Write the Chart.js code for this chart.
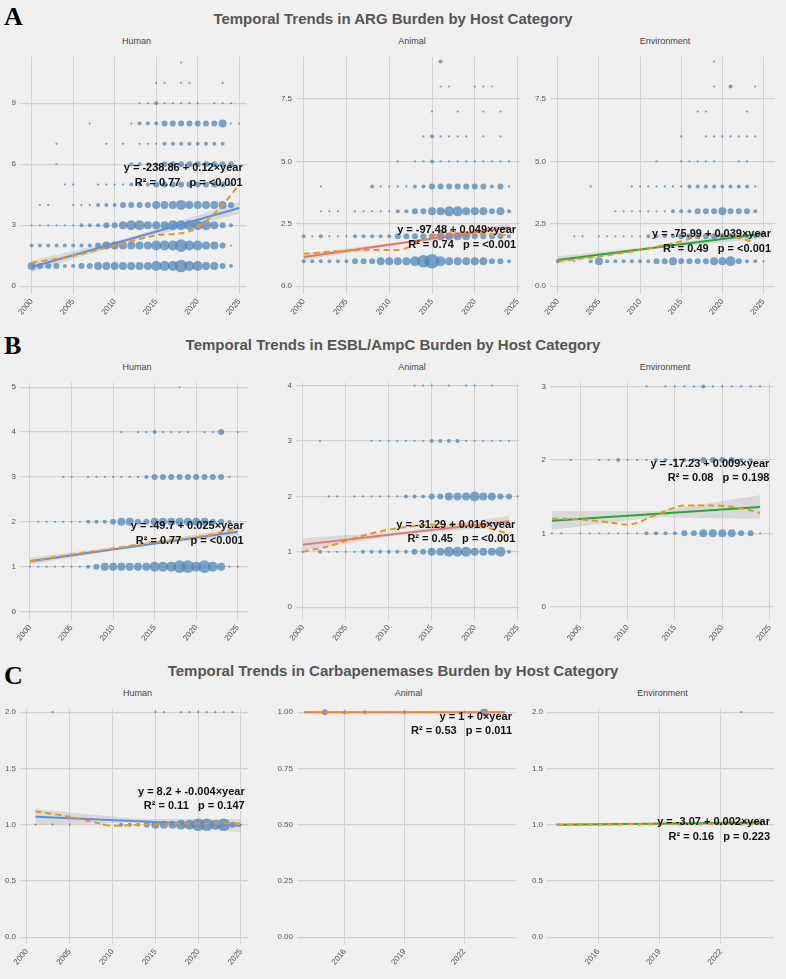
<!DOCTYPE html>
<html>
<head>
<meta charset="utf-8">
<script src="https://cdn.jsdelivr.net/npm/chart.js@4.4.1/dist/chart.umd.min.js"></script>
<style>
  body { margin: 0; background: #f0f0f0; width: 786px; height: 979px; position: relative; overflow: hidden; font-family: "Liberation Sans", Arial, sans-serif; }
  .panel { position: absolute; }
  .title { position: absolute; left: 0; width: 786px; text-align: center; font: bold 15px "Liberation Sans Narrow", "Liberation Sans", sans-serif; color: #555; }
  .letter { position: absolute; left: 4px; font: bold 26px "Liberation Serif", serif; color: #000; }
  .sub { position: absolute; font: 9px "Liberation Sans Narrow", "Liberation Sans", sans-serif; color: #444; text-align: center; }
</style>
</head>
<body>
<div class="letter" style="top:2px">A</div>
<div class="title" style="top:10px">Temporal Trends in ARG Burden by Host Category</div>
<div class="letter" style="top:331px">B</div>
<div class="title" style="top:336px">Temporal Trends in ESBL/AmpC Burden by Host Category</div>
<div class="letter" style="top:661px">C</div>
<div class="title" style="top:662px">Temporal Trends in Carbapenemases Burden by Host Category</div>

<script>
// bubble rows: [level, firstYear, size codes per year...] 0 = no point
const humanA = [
  [1, 2000, 4,3,3,3,2,2,3,3,4,4,4,4,4,4,4,5,5,5,6,5,5,4,4,3,2],
  [2, 2000, 2,2,2,2,2,2,2,2,3,4,4,4,4,4,4,5,5,5,6,5,5,4,4,3,1],
  [3, 2000, 1,1,1,1,1,1,2,2,2,3,3,4,5,5,4,4,4,5,5,5,5,5,4,3,2],
  [4, 2001, 1,1,0,0,1,1,1,2,2,2,3,3,3,3,4,4,4,5,4,4,4,4,4,3],
  [5, 2004, 1,1,0,0,1,1,1,1,2,2,2,3,3,3,3,3,3,3,3,3,2],
  [6, 2003, 1,0,0,0,0,0,0,0,0,2,2,2,2,3,3,3,3,3,3,3,3,3],
  [7, 2003, 1,0,0,0,0,0,1,0,1,0,1,1,1,2,2,2,2,2,2,2,2],
  [8, 2007, 1,0,0,0,0,1,2,2,2,3,3,3,3,3,3,3,4,1,1],
  [9, 2013, 1,1,2,1,1,1,1,1,0,1,1,1],
  [10, 2015, 1,1,0,1,1,0,0,0,1],
  [11, 2018, 1]
];
const animalA = [
  [1, 2000, 2,2,2,2,2,2,3,3,3,4,4,4,4,5,6,7,5,4,4,4,4,4,3,3,2],
  [2, 2000, 2,1,2,1,1,1,2,2,2,2,2,3,3,3,3,3,4,4,4,4,3,3,3,3,2],
  [3, 2002, 1,1,1,0,1,1,1,1,1,2,2,3,3,4,4,5,5,4,4,4,3,4,2],
  [4, 2002, 1,0,0,0,0,0,2,1,1,1,1,2,2,3,3,3,3,3,3,3,2,3,1],
  [5, 2011, 1,0,1,1,2,1,1,1,1,1,1,1,1,1],
  [6, 2014, 1,2,1,1,1,1,0,1,0,1],
  [7, 2015, 1,0,0,1,0,0,1,0,1],
  [8, 2016, 1,1,0,0,1,1,1],
  [9, 2016, 2]
];
const envA = [
  [1, 2000, 2,0,1,0,2,4,2,2,2,2,2,2,3,3,4,3,3,3,3,4,4,5,3,2,2,1],
  [2, 2002, 1,1,0,1,1,1,1,1,1,2,2,2,2,3,3,3,3,3,3,3,2,2,2],
  [3, 2007, 1,1,1,1,1,1,1,2,2,2,3,3,3,4,3,3,3,2],
  [4, 2004, 1,0,0,0,0,1,1,1,1,1,1,1,2,2,2,2,2,2,2,2,1],
  [5, 2012, 1,0,0,1,1,1,1,1,0,0,1,1],
  [6, 2015, 1,0,0,1,1,1,1,1,1,1],
  [7, 2017, 1,1,0,0,0,0,1],
  [8, 2019, 1,0,2,0,0,1],
  [9, 2019, 1]
];
const humanB = [
  [1, 2000, 1,1,1,1,1,1,1,2,3,4,4,4,4,4,4,5,5,5,6,6,5,6,5,4,1,1],
  [2, 2001, 1,1,1,1,1,1,2,2,2,3,4,4,3,3,4,4,4,4,4,4,4,3,3,2],
  [3, 2004, 1,1,0,1,1,1,1,1,1,1,2,3,3,3,3,3,3,3,3,3,1],
  [4, 2011, 1,0,1,1,2,1,1,1,1,0,1,1,3,0,1],
  [5, 2018, 1]
];
const animalB = [
  [1, 2000, 1,0,2,1,1,1,1,2,2,2,2,2,2,3,3,4,4,5,5,5,4,4,4,5,2],
  [2, 2003, 1,1,0,1,1,1,1,1,1,2,2,2,3,3,4,4,4,5,4,4,3,3,1],
  [3, 2002, 1,0,0,0,0,0,1,1,1,1,1,1,1,2,2,2,2,1,1,1,1,1,1],
  [4, 2013, 1,1,1,0,1,0,1,1,0,1]
];
const envB = [
  [1, 2002, 1,1,0,1,1,1,1,1,1,1,2,2,2,2,3,3,4,4,4,4,3,3,1],
  [2, 2004, 1,0,0,1,1,2,1,1,1,2,2,2,2,2,3,3,3,3,2,2],
  [3, 2012, 1,0,1,1,1,1,2,1,1,1,1,1,1]
];
const humanC = [
  [1, 2001, 1,0,1,0,1,0,0,0,1,0,2,2,2,3,4,4,4,5,5,6,6,5,6,3,1],
  [2, 2003, 1,0,0,0,0,0,0,0,0,0,0,0,1,1,0,1,1,1,1,1,1,1]
];
const animalC = [
  [1, 2014, 1,3,2,2,1,2,1,1,1,4,1]
];
const envC = [
  [1, 2014, 1,1,1,1,1,1,1,1,1,1,1],
  [2, 2023, 1]
];

// fitted line endpoints [x0, y0, x1, y1]
const fitA = [[2000, 0.95, 2025, 3.85], [2000, 1.17, 2024, 2.35], [2000, 1.05, 2025, 2.1]];
const fitB = [[2000, 1.12, 2025, 1.78], [2000, 1.13, 2024, 1.55], [2002, 1.17, 2024, 1.36]];
const fitC = [[2001, 1.07, 2025, 0.99], [2014, 1.0, 2024, 1.0], [2014, 1.0, 2024, 1.02]];

// confidence bands: x, low, high
const ciX = [
  [2000, 2012, 2025], [2000, 2012, 2024], [2000, 2012, 2025],
  [2000, 2012, 2025], [2000, 2012, 2024], [2002, 2013, 2024],
  [2001, 2013, 2025], [], [2014, 2019, 2024]
];
const ciLo = [
  [0.7, 2.22, 3.55], [1.05, 1.7, 2.15], [0.92, 1.52, 1.9],
  [1.05, 1.42, 1.7], [1.02, 1.33, 1.45], [1.05, 1.22, 1.2],
  [1.0, 1.02, 0.93], [], [0.99, 1.0, 1.0]
];
const ciHi = [
  [1.25, 2.42, 4.15], [1.3, 1.8, 2.5], [1.2, 1.6, 2.25],
  [1.2, 1.48, 1.86], [1.25, 1.37, 1.65], [1.3, 1.3, 1.52],
  [1.14, 1.05, 1.05], [], [1.01, 1.01, 1.04]
];

// loess smooth (dashed)
const loessX = [
  [2000, 2005, 2010, 2015, 2019, 2021, 2023, 2025],
  [2000, 2004, 2008, 2011, 2014, 2017, 2020, 2024],
  [2000, 2005, 2010, 2015, 2018, 2021, 2024],
  [2000, 2005, 2010, 2015, 2020, 2025],
  [2000, 2003, 2006, 2010, 2014, 2018, 2021, 2024],
  [2002, 2005, 2008, 2010, 2013, 2016, 2019, 2022, 2024],
  [2001, 2005, 2008, 2010, 2013, 2018, 2025],
  [2014, 2024],
  [2014, 2019, 2024]
];
const loessY = [
  [1.15, 1.5, 2.0, 2.5, 2.7, 3.2, 4.0, 5.0],
  [1.3, 1.4, 1.45, 1.45, 1.85, 2.2, 2.1, 2.05],
  [1.0, 1.2, 1.45, 1.8, 2.05, 2.0, 1.75],
  [1.12, 1.27, 1.4, 1.55, 1.65, 1.85],
  [1.0, 1.1, 1.25, 1.4, 1.48, 1.5, 1.45, 1.32],
  [1.2, 1.19, 1.15, 1.12, 1.25, 1.38, 1.38, 1.34, 1.28],
  [1.12, 1.07, 1.02, 0.99, 1.0, 1.01, 1.01],
  [1.0, 1.0],
  [1.0, 1.005, 1.01]
];

const eqText = [
  ["y = -238.86 + 0.12×year", "R² = 0.77   p = <0.001"],
  ["y = -97.48 + 0.049×year", "R² = 0.74   p = <0.001"],
  ["y = -75.99 + 0.039×year", "R² = 0.49   p = <0.001"],
  ["y = -49.7 + 0.025×year", "R² = 0.77   p = <0.001"],
  ["y = -31.29 + 0.016×year", "R² = 0.45   p = <0.001"],
  ["y = -17.23 + 0.009×year", "R² = 0.08   p = 0.198"],
  ["y = 8.2 + -0.004×year", "R² = 0.11   p = 0.147"],
  ["y = 1 + 0×year", "R² = 0.53   p = 0.011"],
  ["y = -3.07 + 0.002×year", "R² = 0.16   p = 0.223"]
];
const eqY = [[5.8, 5.1], [2.25, 1.67], [2.1, 1.5], [1.9, 1.58], [1.48, 1.23], [1.95, 1.76], [1.29, 1.17], [0.98, 0.915], [1.02, 0.89]];

const xTicks = [
  [2000, 2005, 2010, 2015, 2020, 2025], [2000, 2005, 2010, 2015, 2020, 2025], [2000, 2005, 2010, 2015, 2020, 2025],
  [2000, 2005, 2010, 2015, 2020, 2025], [2000, 2005, 2010, 2015, 2020, 2025], [2005, 2010, 2015, 2020, 2025],
  [2000, 2005, 2010, 2015, 2020, 2025], [2016, 2019, 2022], [2016, 2019, 2022]
];
const yTicks = [
  [0, 3, 6, 9], [0, 2.5, 5, 7.5], [0, 2.5, 5, 7.5],
  [0, 1, 2, 3, 4, 5], [0, 1, 2, 3, 4], [0, 1, 2, 3],
  [0, 0.5, 1, 1.5, 2], [0, 0.25, 0.5, 0.75, 1], [0, 0.5, 1, 1.5, 2]
];
const yDigits = [0, 1, 1, 0, 0, 0, 1, 2, 1];

// panel geometry: plot left, right, top, bottom (px) and axis ranges
const panels = [
  { rows: humanA, name: "Human", L: 20, R: 253, T: 48, B: 294, x: [1998.6, 2025.9], y: [-0.38, 11.28] },
  { rows: animalA, name: "Animal", L: 296, R: 528, T: 48, B: 294, x: [1999.1, 2025.3], y: [-0.31, 9.19] },
  { rows: envA, name: "Environment", L: 550, R: 780, T: 48, B: 294, x: [1999.05, 2026.4], y: [-0.31, 9.19] },
  { rows: humanB, name: "Human", L: 20, R: 254, T: 374, B: 620, x: [1998.8, 2026.2], y: [-0.19, 5.1] },
  { rows: animalB, name: "Animal", L: 296, R: 528, T: 374, B: 620, x: [1999.2, 2025.2], y: [-0.23, 4.05] },
  { rows: envB, name: "Environment", L: 550, R: 780, T: 374, B: 620, x: [2001.8, 2025.4], y: [-0.18, 3.05] },
  { rows: humanC, name: "Human", L: 20, R: 255, T: 700, B: 944, x: [1999.2, 2025.9], y: [-0.06, 2.03] },
  { rows: animalC, name: "Animal", L: 297, R: 520, T: 700, B: 944, x: [2013.6, 2024.6], y: [-0.03, 1.015] },
  { rows: envC, name: "Environment", L: 547, R: 778, T: 700, B: 944, x: [2013.5, 2024.6], y: [-0.06, 2.03] }
];
const fits = fitA.concat(fitB, fitC);
const lineColors = ["#5B8FE6", "#E9746B", "#1FAA3A"];
const sizeR = [0, 1.1, 2, 3, 4, 5, 6.3, 7.3];

const eqPlugin = {
  id: "eq",
  afterDatasetsDraw(chart) {
    const i = chart.options.plugins.eq.idx;
    const ctx = chart.ctx, a = chart.chartArea, ys = chart.scales.y;
    ctx.save();
    ctx.font = "bold 11px 'Liberation Sans Narrow', 'Liberation Sans', sans-serif";
    ctx.fillStyle = "#111";
    ctx.textAlign = "right";
    ctx.textBaseline = "middle";
    ctx.fillText(eqText[i][0], a.right - 4, ys.getPixelForValue(eqY[i][0]));
    ctx.fillText(eqText[i][1], a.right - 4, ys.getPixelForValue(eqY[i][1]));
    ctx.restore();
  }
};

const AXW = 20, AXH = 26;
panels.forEach((p, i) => {
  const div = document.createElement("div");
  div.className = "panel";
  div.style.left = (p.L - AXW) + "px";
  div.style.top = p.T + "px";
  div.style.width = (p.R - p.L + AXW) + "px";
  div.style.height = (p.B - p.T + AXH) + "px";
  const cv = document.createElement("canvas");
  div.appendChild(cv);
  document.body.appendChild(div);

  const sub = document.createElement("div");
  sub.className = "sub";
  sub.textContent = p.name;
  sub.style.left = p.L + "px";
  sub.style.width = (p.R - p.L) + "px";
  sub.style.top = (p.T - 12) + "px";
  document.body.appendChild(sub);

  const pts = [];
  p.rows.forEach(r => {
    for (let k = 2; k < r.length; k++) {
      if (r[k] > 0) pts.push({ x: r[1] + k - 2, y: r[0], r: sizeR[r[k]] });
    }
  });
  const col = lineColors[i % 3];
  const f = fits[i];
  const datasets = [];
  if (ciX[i].length) {
    datasets.push({ type: "line", data: ciX[i].map((x, k) => ({ x, y: ciHi[i][k] })), borderWidth: 0, pointRadius: 0, fill: "+1", backgroundColor: "rgba(175,175,175,0.35)", order: 5 });
    datasets.push({ type: "line", data: ciX[i].map((x, k) => ({ x, y: ciLo[i][k] })), borderWidth: 0, pointRadius: 0, fill: false, order: 5 });
  }
  datasets.push({ type: "bubble", data: pts, backgroundColor: "rgba(74,130,182,0.72)", borderWidth: 0, order: 3 });
  datasets.push({ type: "line", data: [{ x: f[0], y: f[1] }, { x: f[2], y: f[3] }], borderColor: col, borderWidth: 2, pointRadius: 0, fill: false, order: 2 });
  datasets.push({ type: "line", data: loessX[i].map((x, k) => ({ x, y: loessY[i][k] })), borderColor: "#F0921E", borderWidth: 2, borderDash: [6, 4], pointRadius: 0, tension: 0.4, cubicInterpolationMode: "monotone", fill: false, order: 1 });

  new Chart(cv, {
    type: "bubble",
    data: { datasets },
    plugins: [eqPlugin],
    options: {
      responsive: true,
      maintainAspectRatio: false,
      animation: false,
      layout: { padding: 0 },
      plugins: { legend: { display: false }, tooltip: { enabled: false }, eq: { idx: i } },
      scales: {
        x: {
          type: "linear", min: p.x[0], max: p.x[1],
          afterBuildTicks: s => { s.ticks = xTicks[i].map(v => ({ value: v })); },
          afterFit: s => { s.height = AXH; },
          grid: { color: "#d2d2d2", drawTicks: false },
          border: { display: false },
          ticks: { minRotation: 50, maxRotation: 50, padding: 3, color: "#555", font: { size: 8 }, callback: v => String(v) }
        },
        y: {
          type: "linear", min: p.y[0], max: p.y[1],
          afterBuildTicks: s => { s.ticks = yTicks[i].map(v => ({ value: v })); },
          afterFit: s => { s.width = AXW; },
          grid: { color: "#d2d2d2", lineWidth: 1.3, drawTicks: false },
          border: { display: false },
          ticks: { padding: 4, color: "#555", font: { size: 8 }, callback: v => v.toFixed(yDigits[i]) }
        }
      }
    }
  });
});
</script>
</body>
</html>
